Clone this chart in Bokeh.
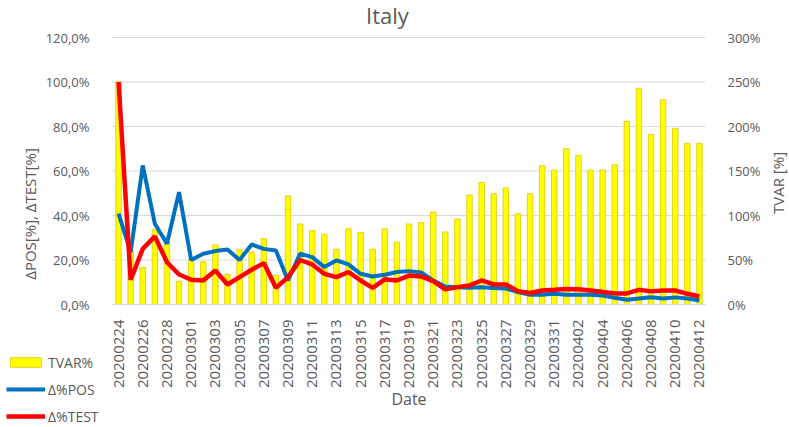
import math
from bokeh.plotting import figure
from bokeh.models import (Range1d, LinearAxis, FixedTicker, Legend, LegendItem,
                          ColumnDataSource, PrintfTickFormatter, Label)
from bokeh.embed import file_html
from bokeh.resources import INLINE

dates = [
    "20200224", "20200225", "20200226", "20200227", "20200228", "20200229",
    "20200301", "20200302", "20200303", "20200304", "20200305", "20200306",
    "20200307", "20200308", "20200309", "20200310", "20200311", "20200312",
    "20200313", "20200314", "20200315", "20200316", "20200317", "20200318",
    "20200319", "20200320", "20200321", "20200322", "20200323", "20200324",
    "20200325", "20200326", "20200327", "20200328", "20200329", "20200330",
    "20200331", "20200401", "20200402", "20200403", "20200404", "20200405",
    "20200406", "20200407", "20200408", "20200409", "20200410", "20200411",
    "20200412",
]

tvar = [250, 60, 41.5, 84.5, 70, 26, 50, 48, 67, 34, 62, 59, 74, 33, 122, 90.5,
        83, 79, 62, 85, 81, 62, 85, 70, 90.5, 92, 104, 81.5, 96, 123, 137, 124.5,
        131, 102, 124.5, 156, 151, 175, 167.5, 151, 151, 157, 205.6, 243, 191,
        230, 198, 181, 181]

pos = [40.8, 23.5, 62.5, 36.3, 27.3, 50.5, 20, 22.8, 24, 24.7, 20, 27, 25, 24.3,
       10.8, 22.8, 21.3, 16.8, 19.8, 18, 13.8, 12.6, 13.4, 14.6, 15, 14.4, 10.8,
       8.1, 7.8, 7.5, 7.8, 7.4, 7.2, 5.6, 4.4, 4.4, 4.8, 4.4, 4.4, 4.4, 4, 3, 2.1,
       2.7, 3.3, 2.7, 3.2, 2.7, 1.8]

test = [100, 11.1, 25, 30.6, 19, 13.5, 11.1, 10.8, 15.3, 9, 12.3, 15.6, 18.6, 7.5,
        12.3, 20, 18, 13.8, 12.3, 14.6, 10.8, 7.5, 11.3, 10.8, 13, 12.6, 10.5,
        6.8, 7.8, 8.6, 10.8, 9, 9, 6, 5.2, 6.3, 6.6, 7, 6.9, 6.3, 5.6, 5, 5, 6.6,
        5.9, 6.3, 6.3, 4.8, 3.6]

left_ticks = [0, 20, 40, 60, 80, 100, 120]
left_labels = ["0,0%", "20,0%", "40,0%", "60,0%", "80,0%", "100,0%", "120,0%"]
right_ticks = [0, 50, 100, 150, 200, 250, 300]

FONT = "Open Sans"
GREY = "#595959"
YELLOW = "#FFFF00"
YELLOW_EDGE = "#E6C300"
BLUE = "#0070C0"
RED = "#FF0000"

W, H = 789, 427
# plot-area placement (pixels) inside the page
PL, PR, PT, PB = 112, 705, 37, 304
n = len(dates)
cat_w = (PR - PL) / n
x_start = -0.5 - (PL - 0) / cat_w
x_end = n - 0.5 + (W - PR) / cat_w
ppu = (PB - PT) / left_ticks[-1]
y_start = -(H - PB) / ppu
y_end = left_ticks[-1] + PT / ppu
ratio = right_ticks[-1] / left_ticks[-1]

idx = list(range(n))
src = ColumnDataSource(dict(i=idx, date=dates, tvar=tvar, pos=pos, test=test))

p = figure(width=W, height=H, x_range=Range1d(x_start, x_end),
           y_range=Range1d(y_start, y_end), output_backend="svg",
           toolbar_location=None, min_border=0, x_axis_type=None, y_axis_type=None)
p.extra_y_ranges = {"tvar": Range1d(y_start * ratio, y_end * ratio)}
p.outline_line_color = None
p.xgrid.visible = False
p.ygrid.visible = False

# horizontal gridlines across the category span only
p.segment(x0=[-0.5] * len(left_ticks), x1=[n - 0.5] * len(left_ticks),
          y0=left_ticks, y1=left_ticks, line_color="#d9d9d9", line_width=1)

bars = p.vbar(x="i", top="tvar", width=0.45, source=src, y_range_name="tvar",
              fill_color=YELLOW, line_color=YELLOW_EDGE, line_width=0.8)
l_pos = p.line(x="i", y="pos", source=src, line_color=BLUE, line_width=4)
l_test = p.line(x="i", y="test", source=src, line_color=RED, line_width=4.5)

# left axis
ya = LinearAxis(ticker=FixedTicker(ticks=left_ticks), fixed_location=-0.5,
                axis_label="ΔPOS[%], ΔTEST[%]")
ya.major_label_overrides = {t: s for t, s in zip(left_ticks, left_labels)}
ya.major_label_standoff = 17
ya.axis_label_standoff = 3
p.add_layout(ya, "left")

# right axis
ra = LinearAxis(y_range_name="tvar", ticker=FixedTicker(ticks=right_ticks),
                formatter=PrintfTickFormatter(format="%d%%"), axis_label="TVAR [%]",
                fixed_location=n - 0.5)
ra.major_label_standoff = 16
ra.axis_label_standoff = 14
ra.axis_label_orientation = math.pi / 2
p.add_layout(ra, "right")

for ax in (ya, ra):
    ax.axis_line_color = None
    ax.major_tick_line_color = None
    ax.minor_tick_line_color = None
    ax.major_label_text_font = FONT
    ax.major_label_text_font_size = "13px"
    ax.major_label_text_color = GREY
    ax.axis_label_text_font = FONT
    ax.axis_label_text_font_size = "15px"
    ax.axis_label_text_font_style = "normal"
    ax.axis_label_text_color = GREY

# x axis: one label every other date
xa = LinearAxis(ticker=FixedTicker(ticks=idx[::2]), fixed_location=0,
                bounds=(-0.5, n - 0.5), axis_label="Date")
xa.major_label_overrides = {i: dates[i] for i in idx[::2]}
xa.axis_line_color = "#d9d9d9"
xa.major_tick_line_color = None
xa.minor_tick_line_color = None
xa.major_label_orientation = math.pi / 2
xa.major_label_text_font = FONT
xa.major_label_text_font_size = "15px"
xa.major_label_text_color = GREY
xa.major_label_standoff = 9
xa.axis_label_text_font = FONT
xa.axis_label_text_font_size = "16px"
xa.axis_label_text_font_style = "normal"
xa.axis_label_text_color = GREY
xa.axis_label_standoff = -3
p.add_layout(xa, "below")

title = Label(x=387, y=H - 14, x_units="screen", y_units="screen", text="Italy",
              text_align="center", text_baseline="middle", text_font=FONT,
              text_font_size="22px", text_color=GREY)
p.add_layout(title)

legend = Legend(items=[LegendItem(label="TVAR%", renderers=[bars]),
                       LegendItem(label="Δ%POS", renderers=[l_pos]),
                       LegendItem(label="Δ%TEST", renderers=[l_test])],
                location=(6, 1), orientation="vertical")
legend.label_text_font = FONT
legend.label_text_font_size = "14px"
legend.label_text_color = GREY
legend.glyph_width = 39
legend.glyph_height = 12
legend.label_height = 20
legend.spacing = 7
legend.padding = 0
legend.margin = 0
legend.label_standoff = 3
legend.border_line_color = None
legend.background_fill_alpha = 0
p.add_layout(legend, "center")

open("out.html", "w").write(file_html(p, INLINE))
